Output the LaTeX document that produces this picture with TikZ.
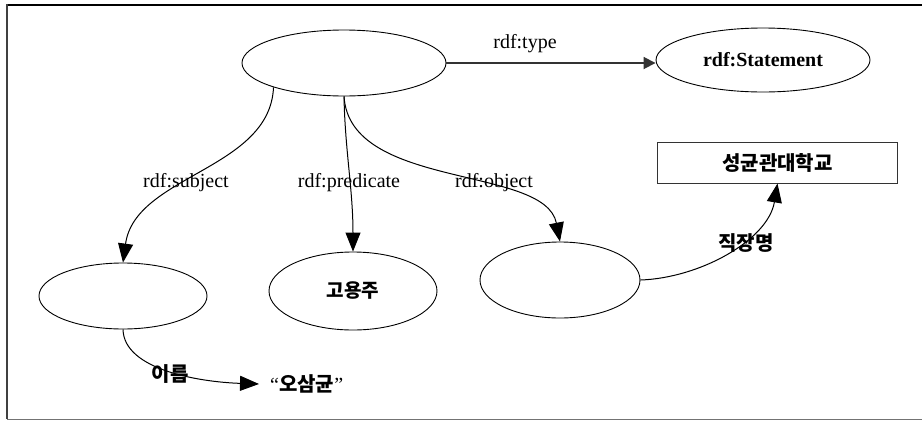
\documentclass[tikz,border=0pt]{standalone}
\usepackage{fontspec}
\setmainfont{Liberation Serif}
\newfontfamily\kr{Noto Sans CJK KR}
\usetikzlibrary{arrows.meta,shapes.geometric}
\begin{document}
\begin{tikzpicture}[x=1pt,y=-1pt,
  res/.style 2 args={draw, ellipse, minimum width=#1, minimum height=#2, inner sep=0pt, line width=0.9pt},
  lbl/.style={font=\fontsize{20}{24}\selectfont, inner sep=0pt},
  krl/.style={font=\kr\bfseries\fontsize{20}{24}\selectfont, inner sep=0pt},
  edge/.style={line width=1pt, -{Triangle[length=19pt,width=15pt]}},
  typeedge/.style={line width=1.8pt, black!80, -{Triangle[length=12pt,width=12pt]}},
  boxnode/.style={draw=black!80, line width=1pt, minimum width=240pt, minimum height=41pt}
]
\useasboundingbox (0,0) rectangle (922,421);
% frame
\draw[line width=2.2pt] (6,5) -- (922,5);
\draw[line width=2pt, black!75] (7,4) -- (7,419);
\draw[line width=1.5pt, black!55] (7,419.5) -- (922,419.5);

% nodes
\node[res={204pt}{66pt}] (top) at (344,63) {};
\node[res={214pt}{64pt}, font=\bfseries\fontsize{20}{24}\selectfont] (stmt) at (763,60) {rdf:Statement};
\node[res={168pt}{66pt}] (subj) at (123,296) {};
\node[res={168pt}{78pt}, krl, font=\kr\bfseries\fontsize{19}{22}\selectfont] (pred) at (353,291) {고용주};
\node[res={160pt}{76pt}] (obj) at (560,280) {};
\node[boxnode, krl] (univ) at (777.5,162.5) {성균관대학교};
\node[krl, anchor=west, inner xsep=11pt] (lit) at (259,384) {{\rmfamily\mdseries “}오삼균{\rmfamily\mdseries ”}};

% connectors
\draw[typeedge] (top.east) -- (top.east -| stmt.west);
\draw[edge] (top.199) .. controls (270,170) and (135,175) .. (subj.north);
\draw[edge] (top.south) .. controls (345,150) and (353,190) .. (pred.north);
\draw[edge] (top.south) .. controls (350,190) and (545,165) .. (obj.north);
\draw[edge] (obj.east) .. controls (700,278) and (768,240) .. (univ.south);
\draw[edge] (subj.south) .. controls (124,370) and (200,382) .. (lit.west);

% labels
\node[lbl] (ltype) at (525,44) {rdf:type};
\node[lbl] (lsubj) at (186,183) {rdf:subject};
\node[lbl] (lpred) at (349,183) {rdf:predicate};
\node[lbl] (lobj) at (494,183) {rdf:object};
\node[krl] (lname) at (170,374) {이름};
\node[krl] (ljob) at (746,243) {직장명};
\end{tikzpicture}
\end{document}
